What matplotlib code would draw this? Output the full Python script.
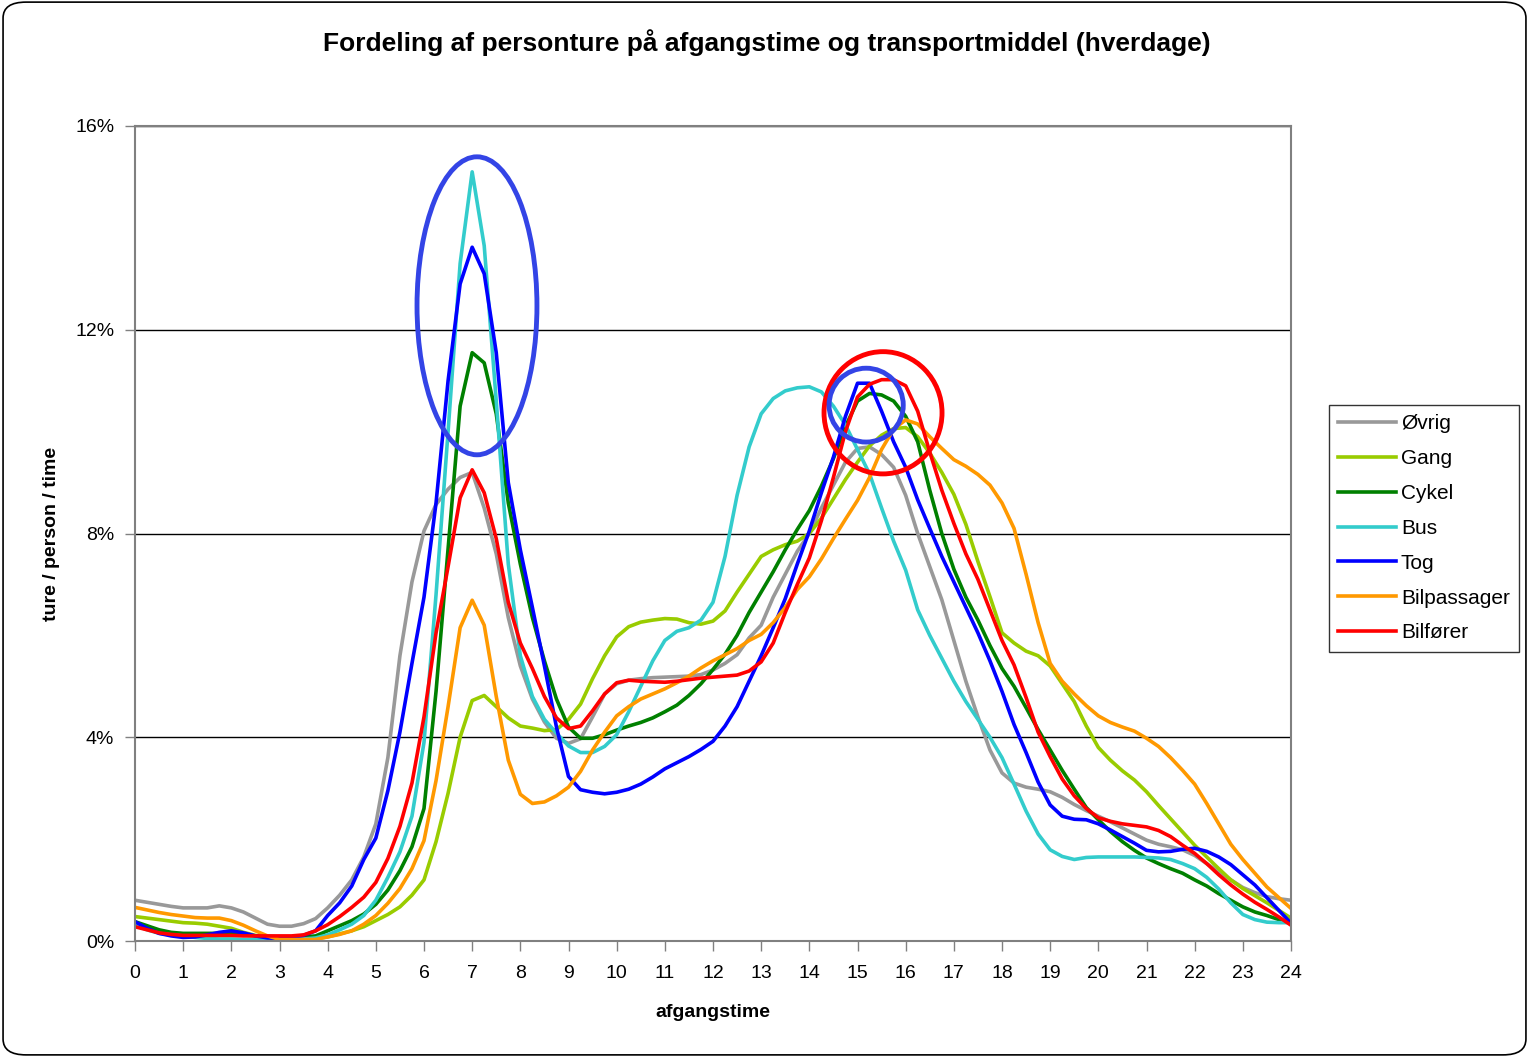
import numpy as np
import matplotlib
matplotlib.use("Agg")
import matplotlib.pyplot as plt
from matplotlib.patches import Ellipse, FancyBboxPatch
from matplotlib.ticker import FuncFormatter

plt.rcParams['font.family'] = ['Liberation Sans', 'DejaVu Sans']

# departure hour, quarter-hour resolution
hours = np.arange(0, 24.01, 0.25)

ovrig = [0.80, 0.76, 0.72, 0.68, 0.65, 0.65, 0.65, 0.69, 0.65, 0.57, 0.45, 0.33,
         0.29, 0.29, 0.34, 0.44, 0.65, 0.90, 1.20, 1.65, 2.30, 3.60, 5.60, 7.05,
         8.05, 8.57, 8.87, 9.10, 9.20, 8.50, 7.60, 6.35, 5.40, 4.75, 4.30, 3.98,
         3.88, 3.97, 4.40, 4.85, 5.05, 5.12, 5.15, 5.17, 5.18, 5.19, 5.20, 5.23,
         5.32, 5.45, 5.62, 5.95, 6.20, 6.75, 7.20, 7.65, 8.00, 8.50, 8.95, 9.40,
         9.67, 9.70, 9.55, 9.30, 8.75, 8.00, 7.35, 6.70, 5.90, 5.10, 4.40, 3.75,
         3.30, 3.10, 3.02, 2.98, 2.93, 2.82, 2.68, 2.56, 2.45, 2.34, 2.22, 2.10,
         1.98, 1.90, 1.85, 1.79, 1.68, 1.52, 1.36, 1.20, 1.05, 0.95, 0.87, 0.83,
         0.80]
gang = [0.48, 0.45, 0.42, 0.39, 0.36, 0.35, 0.33, 0.29, 0.25, 0.17, 0.11, 0.07,
        0.05, 0.04, 0.04, 0.05, 0.08, 0.14, 0.20, 0.28, 0.40, 0.52, 0.67, 0.90,
        1.20, 1.95, 2.90, 4.00, 4.72, 4.82, 4.60, 4.38, 4.22, 4.18, 4.13, 4.15,
        4.35, 4.65, 5.15, 5.60, 5.97, 6.17, 6.26, 6.30, 6.33, 6.32, 6.25, 6.22,
        6.28, 6.48, 6.85, 7.20, 7.55, 7.68, 7.78, 7.85, 8.00, 8.30, 8.68, 9.06,
        9.40, 9.72, 9.93, 10.06, 10.08, 9.90, 9.58, 9.20, 8.77, 8.18, 7.45, 6.76,
        6.05, 5.85, 5.69, 5.60, 5.40, 5.05, 4.70, 4.22, 3.80, 3.55, 3.34, 3.16,
        2.93, 2.66, 2.40, 2.14, 1.88, 1.65, 1.42, 1.20, 1.03, 0.89, 0.75, 0.60,
        0.45]
cykel = [0.38, 0.30, 0.22, 0.17, 0.15, 0.15, 0.15, 0.15, 0.15, 0.12, 0.10, 0.09,
         0.08, 0.08, 0.08, 0.10, 0.20, 0.30, 0.40, 0.53, 0.72, 1.00, 1.38, 1.85,
         2.60, 4.90, 7.70, 10.50, 11.55, 11.35, 10.35, 8.60, 7.40, 6.35, 5.50, 4.75,
         4.20, 3.98, 3.98, 4.05, 4.14, 4.22, 4.29, 4.38, 4.50, 4.63, 4.82, 5.05,
         5.33, 5.63, 6.00, 6.45, 6.85, 7.25, 7.68, 8.08, 8.45, 8.93, 9.47, 10.10,
         10.60, 10.75, 10.72, 10.60, 10.30, 9.80, 8.85, 8.00, 7.30, 6.75, 6.30, 5.80,
         5.35, 5.00, 4.58, 4.15, 3.75, 3.35, 2.98, 2.62, 2.38, 2.15, 1.95, 1.78,
         1.63, 1.52, 1.42, 1.33, 1.20, 1.08, 0.93, 0.80, 0.67, 0.57, 0.50, 0.42,
         0.35]
bus = [0.31, 0.22, 0.15, 0.12, 0.10, 0.07, 0.05, 0.04, 0.04, 0.03, 0.03, 0.03,
       0.03, 0.03, 0.04, 0.06, 0.12, 0.22, 0.33, 0.50, 0.80, 1.25, 1.75, 2.45,
       3.90, 6.80, 10.00, 13.30, 15.10, 13.65, 10.60, 7.40, 5.60, 4.80, 4.35, 4.08,
       3.83, 3.70, 3.70, 3.82, 4.05, 4.50, 5.00, 5.50, 5.90, 6.08, 6.15, 6.30,
       6.65, 7.55, 8.75, 9.70, 10.35, 10.65, 10.80, 10.86, 10.88, 10.78, 10.50, 10.13,
       9.65, 9.17, 8.50, 7.85, 7.28, 6.50, 6.00, 5.55, 5.10, 4.70, 4.35, 4.00,
       3.60, 3.08, 2.55, 2.10, 1.79, 1.66, 1.60, 1.64, 1.65, 1.65, 1.65, 1.65,
       1.64, 1.63, 1.60, 1.52, 1.42, 1.25, 1.02, 0.75, 0.52, 0.42, 0.37, 0.36,
       0.36]
tog = [0.38, 0.25, 0.15, 0.10, 0.07, 0.08, 0.12, 0.17, 0.20, 0.16, 0.10, 0.06,
       0.05, 0.07, 0.11, 0.20, 0.50, 0.75, 1.08, 1.60, 2.02, 2.95, 4.10, 5.45,
       6.75, 8.60, 11.00, 12.90, 13.62, 13.10, 11.55, 9.00, 7.68, 6.55, 5.40, 4.20,
       3.23, 2.97, 2.92, 2.89, 2.92, 2.98, 3.08, 3.22, 3.38, 3.50, 3.62, 3.76,
       3.92, 4.22, 4.60, 5.10, 5.60, 6.15, 6.72, 7.40, 8.05, 8.80, 9.50, 10.30,
       10.95, 10.95, 10.40, 9.80, 9.30, 8.66, 8.10, 7.55, 7.05, 6.55, 6.05, 5.50,
       4.90, 4.25, 3.70, 3.12, 2.67, 2.45, 2.39, 2.38, 2.30, 2.18, 2.05, 1.92,
       1.78, 1.75, 1.76, 1.80, 1.82, 1.76, 1.65, 1.50, 1.30, 1.10, 0.85, 0.60,
       0.35]
bilpassager = [0.66, 0.61, 0.56, 0.52, 0.49, 0.46, 0.45, 0.45, 0.40, 0.31, 0.20, 0.10,
               0.03, 0.03, 0.03, 0.03, 0.08, 0.13, 0.20, 0.33, 0.50, 0.74, 1.03, 1.42,
               1.97, 3.15, 4.60, 6.15, 6.69, 6.20, 4.80, 3.55, 2.88, 2.70, 2.73, 2.85,
               3.02, 3.33, 3.75, 4.10, 4.42, 4.60, 4.75, 4.85, 4.95, 5.07, 5.20, 5.36,
               5.50, 5.62, 5.74, 5.90, 6.02, 6.25, 6.55, 6.90, 7.15, 7.50, 7.90, 8.28,
               8.65, 9.10, 9.65, 10.05, 10.23, 10.15, 9.90, 9.67, 9.45, 9.32, 9.16, 8.95,
               8.60, 8.10, 7.20, 6.25, 5.45, 5.10, 4.85, 4.62, 4.42, 4.29, 4.20, 4.12,
               3.98, 3.82, 3.60, 3.35, 3.08, 2.70, 2.30, 1.90, 1.60, 1.33, 1.06, 0.85,
               0.64]
bilforer = [0.28, 0.22, 0.16, 0.13, 0.11, 0.11, 0.11, 0.11, 0.11, 0.10, 0.10, 0.10,
            0.10, 0.10, 0.12, 0.20, 0.32, 0.48, 0.66, 0.86, 1.15, 1.62, 2.25, 3.10,
            4.40, 6.05, 7.35, 8.70, 9.25, 8.80, 7.90, 6.65, 5.85, 5.35, 4.80, 4.38,
            4.17, 4.22, 4.52, 4.85, 5.07, 5.12, 5.10, 5.09, 5.08, 5.10, 5.13, 5.16,
            5.18, 5.20, 5.22, 5.30, 5.48, 5.85, 6.45, 7.00, 7.52, 8.25, 9.10, 10.00,
            10.68, 10.93, 11.02, 11.02, 10.90, 10.40, 9.60, 8.85, 8.20, 7.60, 7.10, 6.50,
            5.90, 5.42, 4.78, 4.10, 3.62, 3.18, 2.85, 2.60, 2.42, 2.35, 2.30, 2.27,
            2.24, 2.17, 2.05, 1.88, 1.72, 1.52, 1.30, 1.10, 0.92, 0.76, 0.62, 0.47,
            0.31]

labels = ["Øvrig", "Gang", "Cykel", "Bus", "Tog", "Bilpassager", "Bilfører"]
series = [ovrig, gang, cykel, bus, tog, bilpassager, bilforer]
colors = ["#999999", "#99CC00", "#008000", "#33CCCC", "#0000FF", "#FF9900", "#FF0000"]

x_ticks = list(range(0, 25))
y_ticks = [0, 4, 8, 12, 16]

fig = plt.figure(figsize=(15.29, 10.57), dpi=100)
ax = fig.add_axes([135/1529, 1-941/1057, (1291-135)/1529, (941-126)/1057])

for lab, s, c in zip(labels, series, colors):
    ax.plot(hours, s, color=c, lw=2.6, label=lab, solid_joinstyle='round')

ax.set_xlim(0, 24)
ax.set_ylim(0, 16)
ax.set_xticks(x_ticks)
ax.set_yticks(y_ticks)
ax.yaxis.set_major_formatter(FuncFormatter(lambda v, p: f"{int(v)}%"))
ax.tick_params(axis='both', labelsize=14, length=7, width=1, color='#808080')
ax.tick_params(axis='x', pad=10)
ax.tick_params(axis='y', pad=8)
ax.grid(axis='y', color='black', lw=1)
for sp in ax.spines.values():
    sp.set_color('#808080')
    sp.set_linewidth(1.5)

ax.set_xlabel("afgangstime", fontsize=14, fontweight='bold', labelpad=16)
ax.set_ylabel("ture / person / time", fontsize=14, fontweight='bold', labelpad=11)

# highlight shapes
ax.add_patch(Ellipse((7.1, 12.47), 2.49, 5.85, fill=False, ec='#3344E6', lw=3.5, zorder=5))
ax.add_patch(Ellipse((15.53, 10.37), 2.45, 2.4, fill=False, ec='#FF0000', lw=3.5, zorder=5))
ax.add_patch(Ellipse((15.18, 10.52), 1.54, 1.45, fill=False, ec='#3344E6', lw=3.5, zorder=6))

fig.suptitle("Fordeling af personture på afgangstime og transportmiddel (hverdage)",
             x=767/1529, y=1-43/1057, va='center', fontsize=19, fontweight='bold')

leg = fig.legend(loc='upper left', bbox_to_anchor=(1329/1529, 1-405/1057), borderaxespad=0,
                 fontsize=15, frameon=True, fancybox=False, edgecolor='black',
                 handlelength=2.75, handletextpad=0.25, labelspacing=0.76, borderpad=0.45)
leg.get_frame().set_linewidth(1)

fig.patches.append(FancyBboxPatch((0.002, 0.002), 0.996, 0.996, boxstyle="round,pad=0,rounding_size=0.015",
                                  transform=fig.transFigure, fill=False, ec='black', lw=1.2))

fig.savefig("out.png", dpi=100)
